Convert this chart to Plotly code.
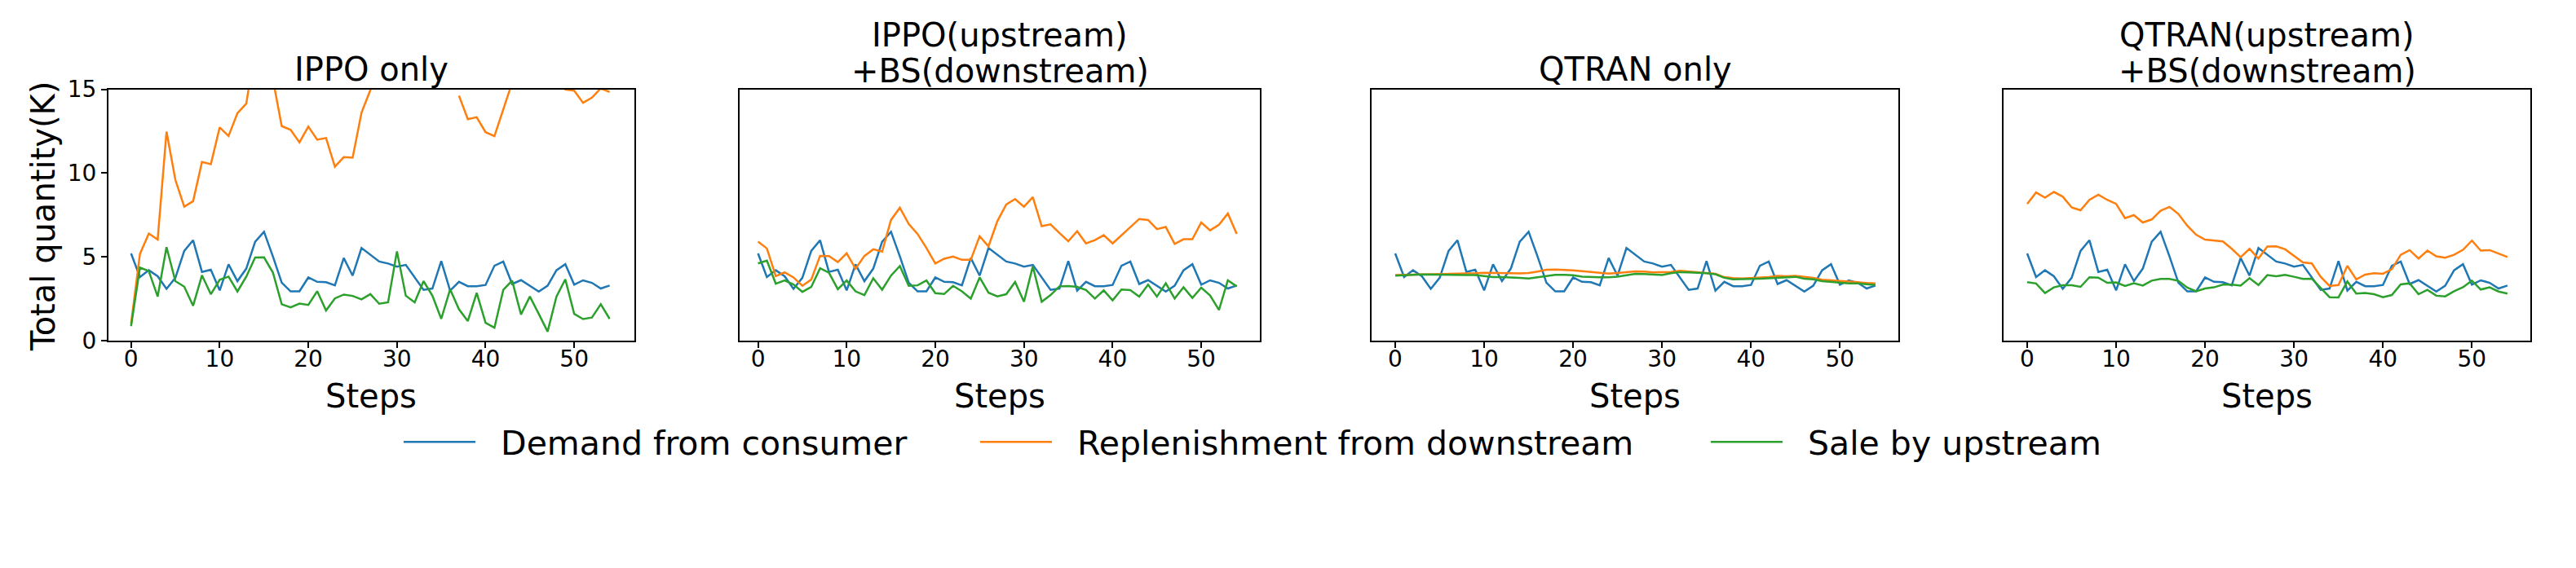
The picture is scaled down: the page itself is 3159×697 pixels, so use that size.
import plotly.graph_objects as go

steps = list(range(55))

demand = [5.2, 3.79, 4.2, 3.84, 3.09, 3.75, 5.35, 5.99, 4.1, 4.23, 3.0, 4.55, 3.55, 4.3, 5.9, 6.5, 5.03, 3.46, 2.94, 2.94,
          3.77, 3.51, 3.49, 3.3, 4.93, 3.88, 5.53, 5.12, 4.72, 4.6, 4.41, 4.52, 3.77, 3.03, 3.11, 4.75, 2.98, 3.51, 3.25, 3.25,
          3.32, 4.47, 4.72, 3.38, 3.61, 3.29, 2.93, 3.28, 4.2, 4.56, 3.34, 3.6, 3.45, 3.11, 3.29]

# replenishment from downstream, one list per setting
repl_ippo = [1.0, 5.17, 6.39, 6.03, 12.47, 9.59, 7.99, 8.32, 10.66, 10.53, 12.72, 12.21, 13.57, 14.14, 17.5, 17.0, 15.6, 12.8,
             12.58, 11.83, 12.77, 11.99, 12.09, 10.38, 10.95, 10.92, 13.6, 14.95, 17.0, 18.0, 19.0, 18.5, 19.0, 18.0, 19.0,
             20.0, None, 14.62, 13.21, 13.33, 12.44, 12.2, 13.8, 15.4, 17.0, 18.0, 18.0, 17.0, 16.5, 14.98, 14.92, 14.19,
             14.5, 15.05, 14.84]
repl_ippo_bs = [5.91, 5.5, 3.85, 4.08, 3.77, 3.27, 3.64, 5.06, 5.05, 4.69, 5.21, 4.29, 5.05, 5.45, 5.31, 7.2, 7.93, 6.96, 6.36,
                5.53, 4.6, 4.89, 5.02, 4.82, 4.82, 6.23, 5.63, 7.13, 8.12, 8.45, 7.99, 8.56, 6.83, 6.94, 6.42, 5.93, 6.53, 5.8,
                6.0, 6.29, 5.8, 6.29, 6.78, 7.26, 7.2, 6.65, 6.78, 5.77, 6.05, 6.05, 7.05, 6.58, 6.91, 7.59, 6.37]
repl_qtran = [3.92, 3.93, 3.95, 3.96, 3.98, 3.99, 3.99, 3.99, 3.99, 4.02, 4.05, 4.03, 4.02, 4.02, 4.01, 4.04, 4.12, 4.23, 4.24,
              4.23, 4.19, 4.14, 4.09, 4.05, 4.0, 4.04, 4.08, 4.13, 4.12, 4.07, 4.09, 4.1, 4.17, 4.13, 4.1, 4.05, 3.99, 3.79,
              3.73, 3.71, 3.73, 3.76, 3.79, 3.86, 3.84, 3.86, 3.79, 3.75, 3.63, 3.6, 3.58, 3.53, 3.49, 3.44, 3.42]
repl_qtran_bs = [8.16, 8.84, 8.53, 8.87, 8.59, 7.95, 7.78, 8.4, 8.71, 8.4, 8.16, 7.31, 7.49, 7.05, 7.23, 7.75, 7.98, 7.56, 6.86,
                 6.32, 6.03, 5.97, 5.92, 5.48, 4.98, 5.48, 4.9, 5.62, 5.63, 5.45, 5.08, 4.67, 4.61, 3.81, 3.26, 3.32, 4.46,
                 3.65, 3.94, 4.02, 3.99, 4.26, 5.12, 5.4, 4.9, 5.37, 5.03, 4.95, 5.12, 5.42, 5.97, 5.37, 5.4, 5.19, 4.99]

# sale by upstream
sale_ippo = [0.86, 4.36, 4.15, 2.63, 5.58, 3.55, 3.22, 2.08, 3.9, 2.77, 3.63, 3.82, 2.93, 3.82, 4.96, 4.97, 4.07, 2.17, 1.99,
             2.21, 2.13, 2.95, 1.8, 2.52, 2.75, 2.67, 2.46, 2.78, 2.2, 2.29, 5.33, 2.68, 2.28, 3.55, 2.68, 1.3, 3.06, 1.87,
             1.17, 2.85, 1.06, 0.77, 3.03, 3.58, 1.56, 2.63, 1.6, 0.54, 2.63, 3.66, 1.6, 1.29, 1.38, 2.17, 1.3]
sale_ippo_bs = [4.61, 4.77, 3.4, 3.59, 3.35, 2.91, 3.2, 4.32, 4.05, 3.07, 3.59, 2.94, 2.72, 3.72, 3.04, 3.88, 4.45, 3.27, 3.3,
                3.59, 2.83, 2.78, 3.27, 2.94, 2.51, 3.77, 2.86, 2.64, 2.77, 3.5, 2.32, 4.43, 2.32, 2.72, 3.24, 3.26, 3.21,
                3.02, 2.51, 3.0, 2.4, 3.05, 3.02, 2.63, 3.34, 2.63, 3.42, 2.51, 3.18, 2.55, 3.16, 2.69, 1.83, 3.6, 3.24]
sale_qtran = [3.88, 3.92, 3.93, 3.95, 3.95, 3.94, 3.93, 3.92, 3.92, 3.91, 3.86, 3.79, 3.79, 3.78, 3.74, 3.71, 3.78, 3.88,
              3.93, 3.93, 3.9, 3.82, 3.79, 3.78, 3.78, 3.82, 3.9, 3.99, 3.97, 3.94, 3.92, 4.02, 4.09, 4.07, 4.05, 4.02, 3.96,
              3.75, 3.66, 3.66, 3.68, 3.7, 3.73, 3.76, 3.76, 3.81, 3.7, 3.66, 3.55, 3.5, 3.47, 3.42, 3.41, 3.36, 3.32]
sale_qtran_bs = [3.49, 3.41, 2.84, 3.18, 3.31, 3.31, 3.21, 3.78, 3.76, 3.45, 3.47, 3.26, 3.42, 3.29, 3.58, 3.68, 3.68, 3.57,
                 3.16, 2.95, 3.11, 3.18, 3.34, 3.34, 3.28, 3.73, 3.32, 3.91, 3.84, 3.92, 3.81, 3.68, 3.7, 3.13, 2.59, 2.58,
                 3.53, 2.81, 2.85, 2.77, 2.59, 2.72, 3.36, 3.42, 2.77, 3.03, 2.68, 2.64, 2.95, 3.19, 3.58, 3.05, 3.18, 2.93,
                 2.81]

# each title as its list of lines
titles = [["IPPO only"], ["IPPO(upstream)", "+BS(downstream)"], ["QTRAN only"], ["QTRAN(upstream)", "+BS(downstream)"]]
series_names = ["Demand from consumer", "Replenishment from downstream", "Sale by upstream"]
colors = ["#1f77b4", "#ff7f0e", "#2ca02c"]
repl = [repl_ippo, repl_ippo_bs, repl_qtran, repl_qtran_bs]
sale = [sale_ippo, sale_ippo_bs, sale_qtran, sale_qtran_bs]

W, H = 3159, 697
FONT = "DejaVu Sans"
# pixel edges of each panel, and the x range shown in it
edges = [(132.7, 777.5), (907.2, 1545.3), (1682.3, 2328.3), (2457.3, 3103.3)]
xranges = [[-2.58, 56.75], [-2.06, 56.64], [-2.63, 56.6], [-2.63, 56.6]]
top_px, bot_px = 109.5, 418
ydom = [1 - bot_px / H, 1 - top_px / H]

fig = go.Figure()
legends = ["legend", "legend2", "legend3"]

for i in range(4):
    xa = "x" if i == 0 else f"x{i+1}"
    ya = "y" if i == 0 else f"y{i+1}"
    for j, ys in enumerate([demand, repl[i], sale[i]]):
        fig.add_trace(go.Scatter(x=steps, y=ys, mode="lines", name="\u00a0\u00a0" + series_names[j],
                                 line=dict(color=colors[j], width=2.5), xaxis=xa, yaxis=ya,
                                 showlegend=(i == 0), legend=legends[j], connectgaps=False))

axis_common = dict(showline=True, mirror=True, linecolor="black", linewidth=1.6, showgrid=False,
                   zeroline=False, ticks="outside", ticklen=7, tickwidth=1.6, tickcolor="black",
                   automargin=False, tickfont=dict(family=FONT, size=28, color="black"))

def txt(s, x_px, y_px, **kw):
    return dict(text=s, x=x_px / W, y=1 - y_px / H, xref="paper", yref="paper", xanchor="center",
                yanchor="middle", showarrow=False, font=dict(family=FONT, size=40, color="black"), **kw)

annotations = []
for i in range(4):
    l, r = edges[i]
    key = "" if i == 0 else str(i + 1)
    fig.layout["xaxis" + key] = dict(axis_common, domain=[l / W, r / W], range=xranges[i],
                                     tickvals=[0, 10, 20, 30, 40, 50], anchor="y" + key,
                                     ticklabelstandoff=-10)
    yax = dict(axis_common, domain=ydom, range=[0, 15], tickvals=[0, 5, 10, 15], anchor="x" + key)
    if i > 0:
        yax.update(showticklabels=False, ticks="")
    fig.layout["yaxis" + key] = yax
    cx = (l + r) / 2
    lines = titles[i]
    ys_px = [85] if len(lines) == 1 else [43, 87]
    for s, yp in zip(lines, ys_px):
        annotations.append(txt(s, cx, yp))
    annotations.append(txt("Steps", cx, 486))

annotations.append(txt("Total quantity(K)", 53, 266, textangle=-90))

leg_common = dict(orientation="h", yanchor="middle", y=1 - 542.7 / H, xanchor="left",
                  bgcolor="rgba(0,0,0,0)", borderwidth=0, itemwidth=88,
                  font=dict(family=FONT, size=41, color="black"))

fig.update_layout(
    width=W, height=H, margin=dict(l=0, r=0, t=0, b=0, autoexpand=False),
    paper_bgcolor="white", plot_bgcolor="white",
    annotations=annotations,
    legend=dict(leg_common, x=490 / W),
    legend2=dict(leg_common, x=1197 / W),
    legend3=dict(leg_common, x=2093 / W),
)

# the page body has a default margin; drop it so the figure sits at the window corner
fig.write_html("out.html", config={"displayModeBar": False},
               post_script="document.body.style.margin='0';")
